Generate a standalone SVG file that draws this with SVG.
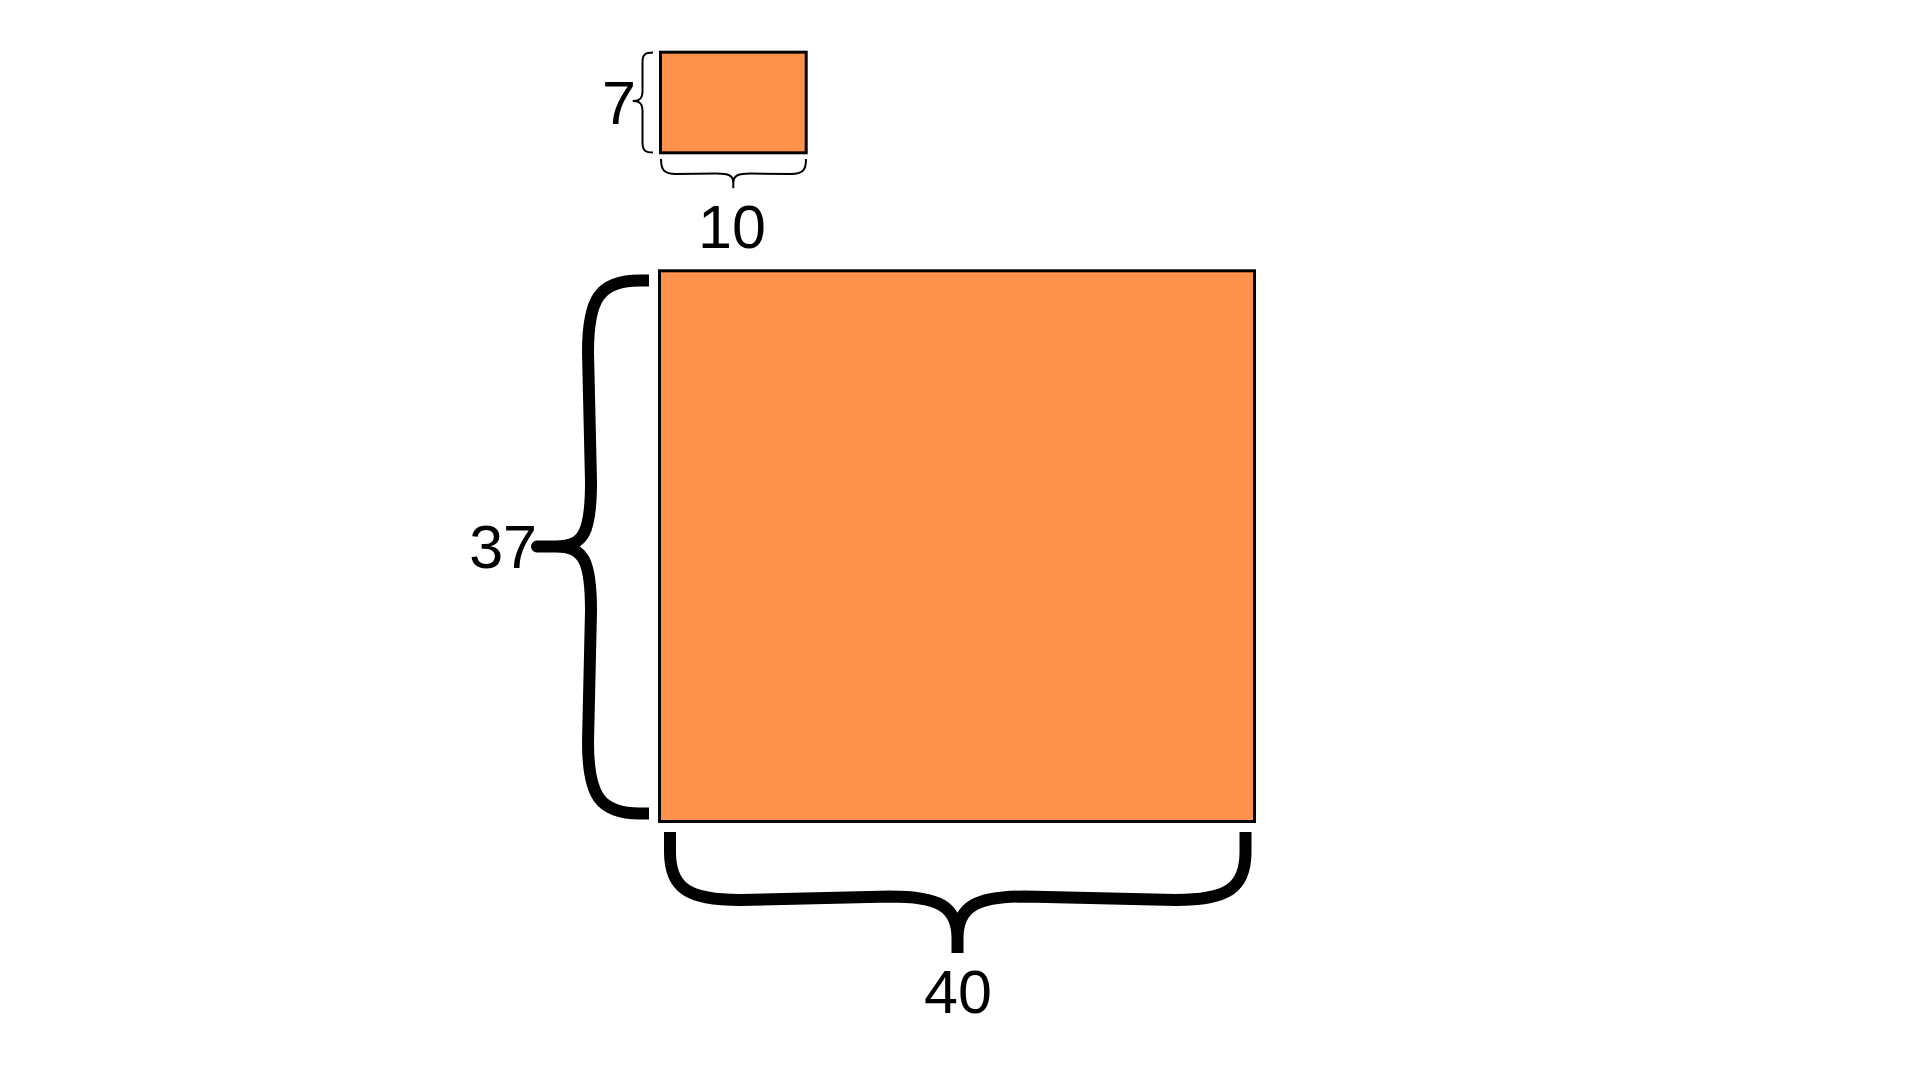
<svg xmlns="http://www.w3.org/2000/svg" width="1920" height="1080" viewBox="0 0 1920 1080">
<style>
.box{fill:#FF914D;stroke:#000;stroke-width:3}
.brace{fill:none;stroke:#000;stroke-linejoin:round}
.thin{stroke-width:2}
.thick{stroke-width:12}
.lbl{font-family:"Liberation Sans",Arial,sans-serif;font-size:61px;fill:#000}
</style>
<rect width="1920" height="1080" fill="#fff"/>
<g id="small-rect">
<rect class="box" x="660.5" y="52.2" width="145.7" height="100.6"/>
</g>
<g id="big-rect">
<rect class="box" x="659.5" y="270.8" width="595" height="550.7"/>
</g>
<g id="braces">
<path class="brace thin" d="M653,52.5 C646,52.5 642.5,54 642.5,62 L642.5,91 C642.5,98 640,101 633.5,101 C640,101 642.5,104 642.5,111 L642.5,143 C642.5,151 646,152.5 653,152.5"/>
<path class="brace thin" d="M661,159 C661,170 664,174 676,174 L717,173.5 C728,173.5 733.3,175 733.3,183 L733.3,188.3 M806,159 C806,170 803,174 791,174 L750,173.5 C739,173.5 733.3,175 733.3,183"/>
<path class="brace thick" d="M649,280.5 L640,280.5 C600,280.5 588,298 588,352 L591,482 C591,532 584,546.5 556,546.5 L537,546.5 L556,546.5 C584,546.5 591,561 591,611 L588,742 C588,796 600,813.5 640,813.5 L649,813.5"/>
<path class="brace thick" d="M670,832 L670,852 C670,888 688,900 740,900 L890,896.5 C938,896.5 957.5,906 957.5,938 L957.5,953 M1245.5,832 L1245.5,852 C1245.5,888 1227.5,900 1175.5,900 L1025,896.5 C977,896.5 957.5,906 957.5,938"/>
</g>
<g id="labels">
<text class="lbl" x="636" y="124" text-anchor="end">7</text>
<text class="lbl" x="732" y="248" text-anchor="middle">10</text>
<text class="lbl" x="537" y="567.5" text-anchor="end">37</text>
<text class="lbl" x="958" y="1013" text-anchor="middle">40</text>
</g>
</svg>
